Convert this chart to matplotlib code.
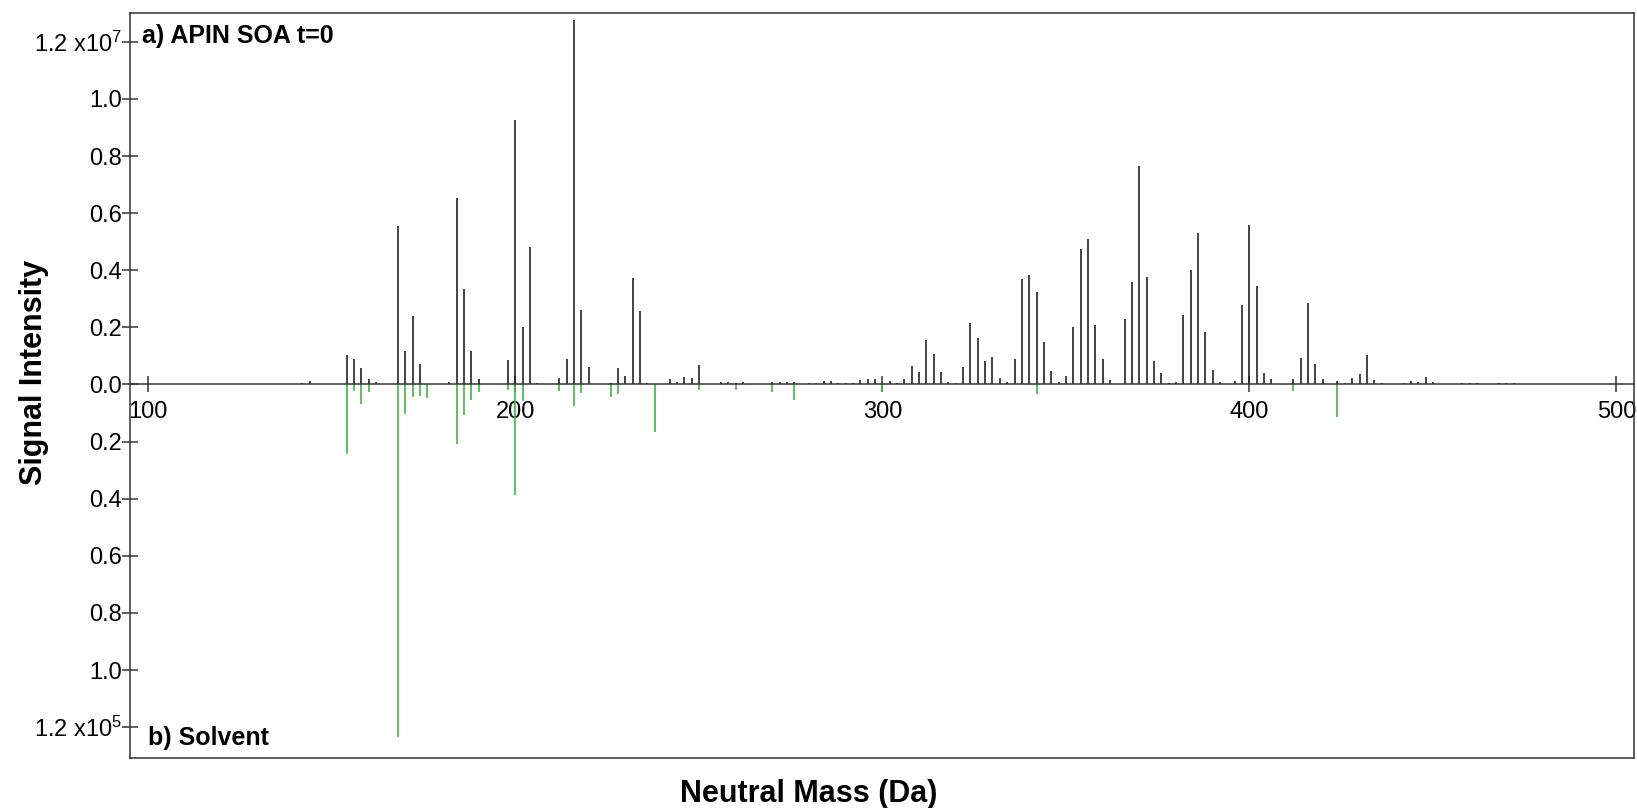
import numpy as np
import matplotlib.pyplot as plt
from matplotlib.lines import Line2D

plt.rcParams['font.family'] = ['Liberation Sans', 'DejaVu Sans']
plt.rcParams['mathtext.default'] = 'regular'

# a) APIN SOA t=0 : neutral mass (Da) and signal intensity (x1e7)
soa_mass = [142, 144, 154, 156, 158, 160, 162, 168, 170, 172, 174, 182, 184, 186, 188, 190,
            198, 200, 202, 204, 206, 212, 214, 216, 218, 220, 226, 228, 230, 232, 234, 236,
            242, 244, 246, 248, 250, 256, 258, 260, 262, 270, 272, 274, 276, 280, 282, 284,
            286, 288, 290, 292, 294, 296, 298, 302, 304, 306, 308, 310, 312, 314, 316, 318,
            320, 322, 324, 326, 328, 330, 332, 334, 336, 338, 340, 342, 344, 346, 348, 350,
            352, 354, 356, 358, 360, 362, 364, 366, 368, 370, 372, 374, 376, 378, 380, 382,
            384, 386, 388, 390, 392, 396, 398, 400, 402, 404, 406, 410, 412, 414, 416, 418,
            420, 424, 426, 428, 430, 432, 434, 436, 442, 444, 446, 448, 450, 456, 458, 460,
            462, 464, 468, 470, 472, 474]
soa_int = [0.004, 0.012, 0.102, 0.088, 0.058, 0.019, 0.009, 0.554, 0.117, 0.240, 0.071, 0.007,
           0.653, 0.335, 0.117, 0.019, 0.085, 0.926, 0.200, 0.480, 0.004, 0.022, 0.088, 1.278,
           0.261, 0.060, 0.004, 0.058, 0.029, 0.374, 0.259, 0.004, 0.020, 0.008, 0.025, 0.024,
           0.068, 0.007, 0.008, 0.006, 0.008, 0.008, 0.009, 0.008, 0.008, 0.004, 0.005, 0.012,
           0.013, 0.006, 0.005, 0.006, 0.014, 0.020, 0.020, 0.011, 0.004, 0.018, 0.065, 0.044,
           0.155, 0.105, 0.043, 0.008, 0.005, 0.061, 0.216, 0.161, 0.082, 0.097, 0.023, 0.007,
           0.088, 0.369, 0.385, 0.323, 0.149, 0.047, 0.007, 0.029, 0.201, 0.476, 0.510, 0.208,
           0.088, 0.015, 0.003, 0.230, 0.358, 0.765, 0.376, 0.083, 0.039, 0.004, 0.007, 0.245,
           0.400, 0.531, 0.182, 0.051, 0.008, 0.013, 0.280, 0.559, 0.345, 0.041, 0.018, 0.003,
           0.020, 0.093, 0.284, 0.070, 0.018, 0.013, 0.004, 0.021, 0.036, 0.103, 0.014, 0.005,
           0.006, 0.013, 0.009, 0.025, 0.007, 0.003, 0.004, 0.004, 0.004, 0.003, 0.004, 0.004,
           0.004, 0.003]

# b) Solvent : neutral mass (Da) and signal intensity (x1e5), drawn downwards
solvent_mass = [154, 156, 158, 160, 168, 170, 172, 174, 176, 184, 186, 188, 190, 198, 200, 202,
                212, 216, 218, 226, 228, 238, 250, 260, 270, 276, 300, 342, 412, 424]
solvent_int = [0.244, 0.022, 0.067, 0.027, 1.233, 0.102, 0.043, 0.039, 0.046, 0.209, 0.107,
               0.053, 0.027, 0.018, 0.387, 0.058, 0.022, 0.074, 0.029, 0.043, 0.032, 0.168,
               0.018, 0.020, 0.028, 0.053, 0.025, 0.034, 0.023, 0.113]

x_ticks = [100, 200, 300, 400, 500]
y_ticks = [1.2, 1.0, 0.8, 0.6, 0.4, 0.2, 0.0, -0.2, -0.4, -0.6, -0.8, -1.0, -1.2]
y_labels = ['1.2 x10$^{7}$', '1.0', '0.8', '0.6', '0.4', '0.2', '0.0',
            '0.2', '0.4', '0.6', '0.8', '1.0', '1.2 x10$^{5}$']

fig = plt.figure(figsize=(16.37, 8.08), dpi=100)
ax = fig.add_axes([0.0794, 0.0623, 0.9188, 0.922])

ax.vlines(soa_mass, 0, soa_int, colors='#222222', lw=1.2)
ax.vlines(solvent_mass, -np.array(solvent_int), 0, colors='#44b444', lw=1.2)

ax.set_xlim(95, 504.8)
ax.set_ylim(-1.307, 1.302)

frame_col = '#333333'
for s in ['left', 'top', 'right']:
    ax.spines[s].set_color(frame_col)
    ax.spines[s].set_linewidth(1.1)
ax.spines['bottom'].set_position(('data', 0))
ax.spines['bottom'].set_color(frame_col)
ax.spines['bottom'].set_linewidth(1.1)
ax.spines['bottom'].set_zorder(3)
# bottom edge of the box
ax.add_line(Line2D([0, 1], [0, 0], transform=ax.transAxes, color=frame_col,
                   lw=1.1, clip_on=False))

ax.set_xticks(x_ticks)
ax.set_xticklabels([str(t) for t in x_ticks])
ax.set_yticks(y_ticks)
ax.set_yticklabels(y_labels)
ax.tick_params(axis='x', direction='inout', length=11.5, width=1.1, color=frame_col,
               labelsize=17, pad=6)
ax.tick_params(axis='y', direction='inout', length=11.5, width=1.1, color=frame_col,
               labelsize=17, pad=0)

ax.text(0.0078, 0.9687, 'a) APIN SOA t=0', transform=ax.transAxes, fontsize=18,
        fontweight='bold', va='center', ha='left')
ax.text(0.012, 0.026, 'b) Solvent', transform=ax.transAxes, fontsize=18,
        fontweight='bold', va='center', ha='left')

fig.text(34 / 1637, 1 - 372 / 808, 'Signal Intensity', rotation=90, fontsize=22,
         fontweight='bold', ha='center', va='center')
fig.text(809 / 1637, 1 - 794 / 808, 'Neutral Mass (Da)', fontsize=22,
         fontweight='bold', ha='center', va='center')

fig.savefig('out.png', dpi=100)
